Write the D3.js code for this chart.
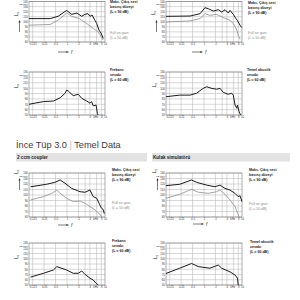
<!DOCTYPE html>
<html><head><meta charset="utf-8">
<script src="https://cdn.jsdelivr.net/npm/d3@7"></script>
<style>html,body{margin:0;padding:0;background:#fff;overflow:hidden}svg{display:block;font-family:"Liberation Sans",Arial,sans-serif}</style>
</head><body><svg id="c" width="300" height="300"></svg>
<script>
// ---------- data ----------
const freqTickValues = [0.125, 0.25, 0.5, 1, 2, 4, 8, 10];
const freqTickLabels = ["0.125", "0.25", "0.5", "1", "2", "4", "8", "10"];
const gridFreqs = [0.125, 0.25, 0.5, 1, 2, 3, 4, 6, 8];
const splTicksOutput = [60, 70, 80, 90, 100, 110, 120, 130, 140];
const splTicksResponse = [50, 60, 70, 80, 90, 100, 110, 120, 130];

const titleText = "İnce Tüp 3.0";
const titleText2 = "Temel Data";
const sectionLabels = ["2 ccm coupler", "Kulak simulatörü"];
const legendMaxOutput = ["Maks. Çıkış sesi", "basınç düzeyi", "(L = 90 dB)"];
const legendFullOnGain = ["Full on gain", "(L = 50 dB)"];
const legendFreqResp = ["Frekans", "cevabı", "(L = 60 dB)"];
const legendBasicResp = ["Temel akustik", "cevabı", "(L = 60 dB)"];

// [kHz, dB SPL]
const topLeftMaxOutput = [[0.1,106.2],[0.36,106.2],[0.58,110.7],[0.98,122.4],[1.33,114.6],[1.83,117.2],[2.44,110.7],[3.0,114.8],[3.57,116],[4.03,110.7],[4.55,113.3],[5.45,102.9],[6.05,96.5],[6.95,83.4],[7.85,77.6],[9.0,67.2]];
const topLeftFullOnGain = [[0.1,93.2],[0.36,94.6],[0.58,102.9],[0.98,117.2],[1.33,110.7],[2.1,106.2],[3.3,96.5],[4.9,86.7],[6.6,80.1],[8.1,69.2],[9.0,63.9]];
const topRightMaxOutput = [[0.1,110.7],[0.43,111.3],[0.79,116],[1.06,127.8],[1.3,125.8],[1.76,121.1],[2.38,123.8],[2.92,119.1],[3.57,123.8],[4.36,117.2],[4.83,122.4],[5.9,114.6],[6.95,106.2],[7.7,101.6],[8.86,93.2],[9.8,88.7]];
const topRightFullOnGain = [[0.1,99.6],[0.43,101.6],[0.79,106.2],[1.06,116],[1.43,112.7],[2.15,114.6],[3.22,108.2],[4.83,102.9],[5.9,96.5],[7.3,83.4],[7.95,73.7],[8.86,65.3]];
const topLeftFreqResp = [[0.1,70],[0.24,75],[0.44,76],[0.66,82],[0.89,90.5],[0.98,96.5],[1.08,94.5],[1.46,86],[1.98,88.5],[2.44,81],[3.3,76],[4.03,72],[4.44,75],[4.9,67],[5.83,68.5],[6.3,53],[6.55,50]];
const topRightBasicResp = [[0.1,84],[0.23,87],[0.43,87],[0.64,90.5],[0.95,99.5],[1.18,102.5],[1.6,99.5],[2.16,98],[2.65,99.5],[3.22,92],[4.36,88.5],[5.35,90.5],[5.9,87],[6.55,68.5],[7.3,62.5],[7.6,68.5],[8.4,56],[9.2,50]];
const couplerMaxOutput = [[0.11,115],[0.29,119.5],[0.48,123],[0.66,127.3],[0.89,121.3],[1.33,112],[1.98,107.3],[2.2,106],[2.98,105],[4.03,109],[4.9,97],[6.05,94],[7.3,82],[8.1,76],[8.9,74],[9.6,66]];
const couplerFullOnGain = [[0.11,91],[0.24,97],[0.4,103],[0.54,109],[0.66,103],[0.98,94],[1.46,88],[2.2,89],[2.98,85],[4.03,79],[5.45,73],[7.3,65],[8.1,60.5]];
const earSimMaxOutput = [[0.1,117],[0.23,119.5],[0.47,127.3],[0.64,123],[1.18,118],[1.94,115],[2.65,118],[3.57,112],[4.83,109],[6.55,103],[7.95,97],[8.86,98.7],[10,88]];
const earSimFullOnGain = [[0.1,94],[0.23,101.3],[0.47,110.4],[0.71,105],[1.3,103],[2.16,106],[2.65,109],[3.57,101.3],[4.83,91],[6.55,78.7],[7.7,66.7],[8.4,60]];
const couplerFreqResp = [[0.11,65],[0.24,72.3],[0.44,78.6],[0.54,85],[0.98,78.6],[1.46,72.3],[1.98,72.3],[2.44,76.7],[2.98,70.4],[4.03,62.8],[4.9,59.5],[5.83,53.2],[6.66,50]];
const earSimBasicResp = [[0.1,72],[0.23,82],[0.47,91],[0.71,85],[1.43,82],[2.38,88],[2.92,82],[4.83,75],[6.55,69],[7.6,63],[7.95,50]];

// ---------- drawing ----------
const svg = d3.select("#c");
const BLACK = "#1a1a1a", GRAY = "#8c8c8c";

const L = {x0: 29, x1: 105}, R = {x0: 166, x1: 242};

const charts = [
  {col: L, y0: 1.5, y1: 42, ticks: splTicksOutput, series: [[topLeftFullOnGain, GRAY], [topLeftMaxOutput, BLACK]],
   legend: [[legendMaxOutput, 110, 2.2, BLACK, true], [legendFullOnGain, 110, 33, GRAY, false]], ylab: [18, 14], yarrow: [32, 20], farrow: [58, 52]},
  {col: R, y0: 1.5, y1: 42, ticks: splTicksOutput, series: [[topRightFullOnGain, GRAY], [topRightMaxOutput, BLACK]],
   legend: [[legendMaxOutput, 248, 3, BLACK, true], [legendFullOnGain, 248, 33, GRAY, false]], ylab: [155, 13], yarrow: [32, 20], farrow: [192, 52]},
  {col: L, y0: 72, y1: 115, ticks: splTicksResponse, series: [[topLeftFreqResp, BLACK]],
   legend: [[legendFreqResp, 110, 70, BLACK, true]], ylab: [18, 86]},
  {col: R, y0: 72, y1: 115, ticks: splTicksResponse, series: [[topRightBasicResp, BLACK]],
   legend: [[legendBasicResp, 247, 70, BLACK, true]], ylab: [156, 85]},
  {col: L, y0: 173, y1: 217, ticks: splTicksOutput, series: [[couplerFullOnGain, GRAY], [couplerMaxOutput, BLACK]],
   legend: [[legendMaxOutput, 112, 170, BLACK, true], [legendFullOnGain, 112, 203, GRAY, false]], ylab: [18, 172], yarrow: [190, 178], farrow: [58, 225]},
  {col: R, y0: 173, y1: 217, ticks: splTicksOutput, series: [[earSimFullOnGain, GRAY], [earSimMaxOutput, BLACK]],
   legend: [[legendMaxOutput, 249, 170, BLACK, true], [legendFullOnGain, 249, 204, GRAY, false]], ylab: [156, 171], yarrow: [190, 178], farrow: [193, 224]},
  {col: L, y0: 243, y1: 285, ticks: splTicksResponse, series: [[couplerFreqResp, BLACK]],
   legend: [[legendFreqResp, 112, 241, BLACK, true]], ylab: [18, 257]},
  {col: R, y0: 243, y1: 285, ticks: splTicksResponse, series: [[earSimBasicResp, BLACK]],
   legend: [[legendBasicResp, 250, 242, BLACK, true]], ylab: [157, 257]}
];

function drawChart(c) {
  const x = d3.scaleLog().domain([0.1, 10]).range([c.col.x0, c.col.x1]);
  const y = d3.scaleLinear().domain([c.ticks[0], c.ticks[c.ticks.length - 1]]).range([c.y1, c.y0]);
  const g = svg.append("g");
  g.selectAll(".vg").data(gridFreqs).join("line")
    .attr("x1", d => x(d)).attr("x2", d => x(d)).attr("y1", c.y0).attr("y2", c.y1)
    .attr("stroke", "#b0b0b0").attr("stroke-width", 0.5);
  g.selectAll(".hg").data(c.ticks).join("line")
    .attr("x1", c.col.x0).attr("x2", c.col.x1).attr("y1", d => y(d)).attr("y2", d => y(d))
    .attr("stroke", "#b0b0b0").attr("stroke-width", 0.5);
  g.append("rect").attr("x", c.col.x0).attr("y", c.y0).attr("width", c.col.x1 - c.col.x0).attr("height", c.y1 - c.y0)
    .attr("fill", "none").attr("stroke", "#777").attr("stroke-width", 0.6);
  const ax = g.append("g").attr("transform", `translate(0,${c.y1})`)
    .call(d3.axisBottom(x).tickValues(freqTickValues).tickFormat((d, i) => freqTickLabels[i]).tickSize(0).tickPadding(1.2));
  ax.select(".domain").remove();
  ax.selectAll("text").attr("font-size", 2.8).attr("fill", "#333").attr("font-family", null);
  g.append("text").attr("x", x(5.7)).attr("y", c.y1 + 1.2).attr("dy", "0.71em").attr("text-anchor", "middle")
    .attr("font-size", 2.8).attr("fill", "#333").text("kHz");
  const ay = g.append("g").attr("transform", `translate(${c.col.x0},0)`)
    .call(d3.axisLeft(y).tickValues(c.ticks).tickSize(0).tickPadding(1.2));
  ay.select(".domain").remove();
  ay.selectAll("text").attr("font-size", 2.8).attr("fill", "#333").attr("font-family", null);
  g.append("text").attr("x", c.col.x0 - 1.2).attr("y", c.y0 + 2.9).attr("dy", "0.32em").attr("text-anchor", "end")
    .attr("font-size", 2.5).attr("fill", "#333").text("dB SPL");
  const yl = g.append("text").attr("transform", `translate(${c.ylab[0]},${c.ylab[1]}) rotate(-90)`)
    .attr("text-anchor", "middle").attr("font-size", 4.5).attr("fill", "#222");
  yl.append("tspan").text("L");
  yl.append("tspan").attr("font-size", 3).attr("dy", 1).text("s");
  if (c.yarrow) {
    const ax0 = c.ylab[0] + 1.5;
    g.append("line").attr("x1", ax0).attr("x2", ax0).attr("y1", c.yarrow[0]).attr("y2", c.yarrow[1] + 2)
      .attr("stroke", "#222").attr("stroke-width", 0.6);
    g.append("path").attr("d", `M${ax0 - 1},${c.yarrow[1] + 2.5}L${ax0},${c.yarrow[1]}L${ax0 + 1},${c.yarrow[1] + 2.5}Z`).attr("fill", "#222");
  }
  if (c.farrow) {
    const [fx, fy] = c.farrow;
    g.append("line").attr("x1", fx).attr("x2", fx + 9).attr("y1", fy).attr("y2", fy).attr("stroke", "#222").attr("stroke-width", 0.6);
    g.append("path").attr("d", `M${fx + 8.5},${fy - 1}L${fx + 11},${fy}L${fx + 8.5},${fy + 1}Z`).attr("fill", "#222");
    g.append("text").attr("x", fx + 13).attr("y", fy).attr("dy", "0.35em").attr("font-size", 4.5).attr("font-style", "italic").attr("fill", "#222").text("f");
  }
  const line = d3.line().x(d => x(d[0])).y(d => y(d[1]));
  c.series.forEach(([data, color]) => {
    g.append("path").datum(data).attr("d", line).attr("fill", "none")
      .attr("stroke", color).attr("stroke-width", color === BLACK ? 1 : 0.8).attr("stroke-linejoin", "round");
  });
  c.legend.forEach(([lines, lx, ly, color, bold]) => {
    g.selectAll(null).data(lines).join("text")
      .attr("x", lx).attr("y", (d, i) => ly + i * 5).attr("dy", "0.35em")
      .attr("font-size", 3.6).attr("font-weight", bold ? "bold" : "normal")
      .attr("font-family", "'Liberation Sans Narrow','Liberation Sans',Arial,sans-serif")
      .attr("fill", color).text(d => d);
  });
}
charts.forEach(drawChart);

const t = svg.append("text").attr("x", 16).attr("y", 148).attr("font-size", 9.2).attr("fill", "#3a3a3a");
t.append("tspan").text(titleText + " ");
t.append("tspan").attr("fill", "#bbb").text("|");
t.append("tspan").text(" " + titleText2);

const bars = [{x: 16, w: 131}, {x: 152, w: 138}];
svg.selectAll(".bar").data(bars).join("rect")
  .attr("x", d => d.x).attr("y", 153).attr("width", d => d.w).attr("height", 8.5).attr("fill", "#e3e3e3");
svg.selectAll(".barText").data(sectionLabels).join("text")
  .attr("x", (d, i) => bars[i].x + 1).attr("y", 157.5).attr("dy", "0.35em")
  .attr("font-size", 4.6).attr("font-weight", "bold").attr("fill", "#222").text(d => d);
</script></body></html>
